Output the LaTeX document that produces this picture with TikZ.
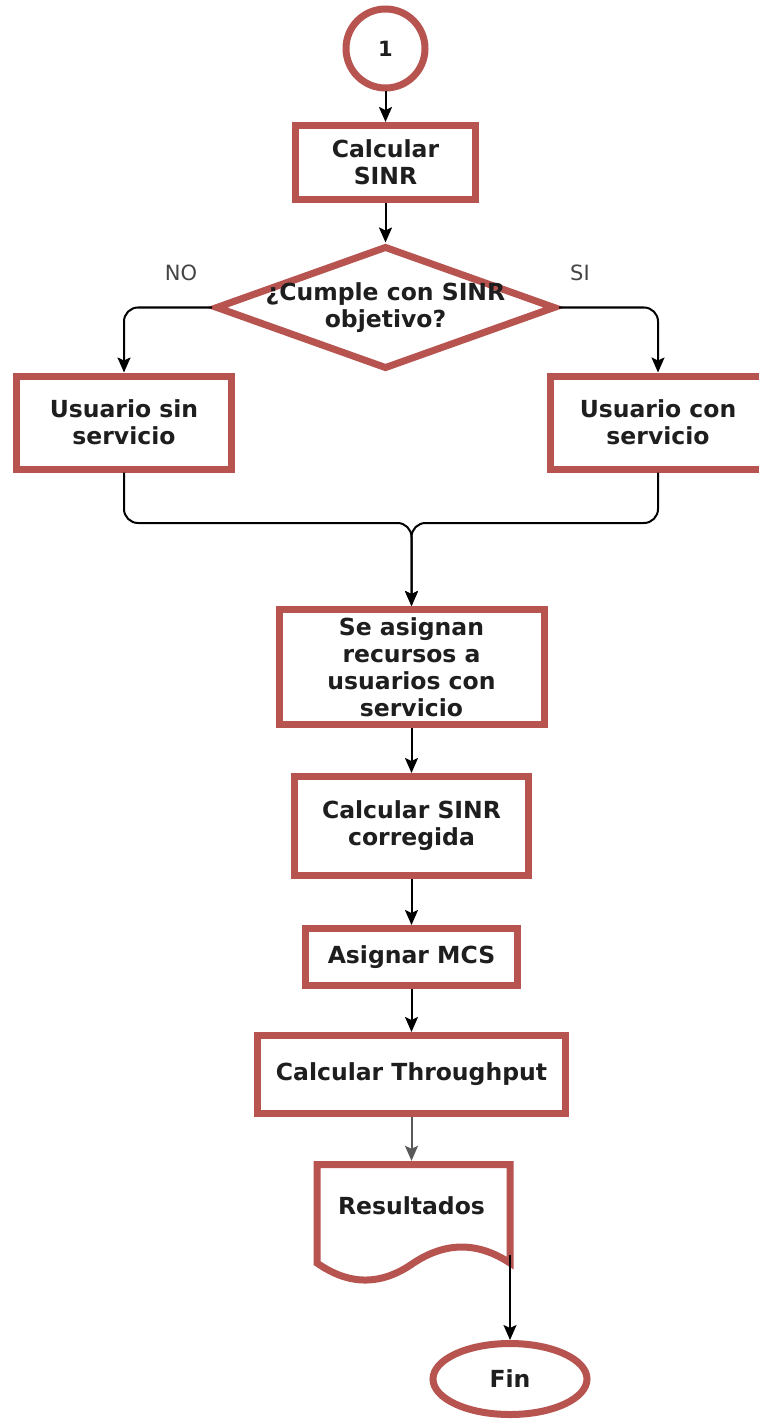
\documentclass[tikz,border=0pt]{standalone}
\usepackage{fontspec}
\setmainfont{DejaVu Sans}
\usetikzlibrary{shapes.geometric,arrows.meta,calc}
\definecolor{stroke}{HTML}{B85450}
\definecolor{ink}{HTML}{1E1E1E}
\definecolor{labelgray}{HTML}{444444}

\begin{document}
\begin{tikzpicture}[x=1pt,y=-1pt,
  txt/.style={font=\bfseries\fontsize{23.5}{27}\selectfont,text=ink,align=center},
  stepbox/.style={txt,draw=stroke,line width=7pt,fill=white,rectangle,inner sep=0pt},
  termnode/.style={txt,draw=stroke,line width=7pt,fill=white,ellipse,inner sep=0pt},
  decnode/.style={draw=stroke,line width=7pt,fill=white,diamond,inner sep=0pt},
  link/.style={draw=black,line width=2pt,-{Stealth[length=15pt,width=13pt,inset=3pt]}},
  branch/.style={font=\fontsize{21}{25}\selectfont,text=labelgray},
]
\useasboundingbox[fill=white] (0,0) rectangle (758,1420);

% start connector
\node[draw=stroke,line width=7pt,fill=white,circle,inner sep=0pt,minimum size=79pt,
      text=ink,font=\bfseries\fontsize{21}{24}\selectfont] (c1) at (385.5,48.5) {1};

% first calculation and decision
\node[stepbox,minimum width=180pt,minimum height=74pt] (b1) at (385.5,162.5) {Calcular\\SINR};
\node[decnode,minimum width=340pt,minimum height=123pt,
      label={[txt]center:{¿Cumple con SINR\\objetivo?}}] (dec) at (385.5,307.5) {};

\node[branch] (no) at (181,273) {NO};
\node[branch] (si) at (580,273) {SI};

% the two outcomes
\node[stepbox,minimum width=215pt,minimum height=93pt] (nosvc) at (124,422.5) {Usuario sin\\servicio};
\node[stepbox,minimum width=215pt,minimum height=93pt] (svc) at (658,422.5) {Usuario con\\servicio};

% main chain
\node[stepbox,minimum width=265pt,minimum height=115pt] (asig) at (411.5,667) {Se asignan\\recursos a\\usuarios con\\servicio};
\node[stepbox,minimum width=234pt,minimum height=99pt] (corr) at (411.5,826) {Calcular SINR\\corregida};
\node[stepbox,minimum width=212pt,minimum height=57pt] (mcs) at (411.5,957) {Asignar MCS};
\node[stepbox,minimum width=308pt,minimum height=78pt] (thr) at (411.5,1074.5) {Calcular Throughput};

% document shape with wavy bottom
\draw[draw=stroke,line width=7pt,fill=white,line join=miter]
  (317,1164.5) -- (510,1164.5) -- (510,1263)
  .. controls (477.8,1241.7) and (445.7,1241.7) .. (413.5,1263)
  .. controls (381.3,1285.7) and (349.2,1285.7) .. (317,1263) -- cycle;
\node[txt,minimum width=200pt,minimum height=90pt,inner sep=0pt] (res) at (411.5,1206) {Resultados};
\coordinate (rescorner) at (510,1255);

\node[termnode,minimum width=154pt,minimum height=71pt] (fin) at (510,1379) {Fin};

% connectors
\draw[link] (c1.south) -- (b1.north);
\draw[link] (b1.south) -- (dec.north);
\draw[link,rounded corners=14pt] (dec.west) -| (nosvc.north);
\draw[link,rounded corners=14pt] (dec.east) -| (svc.north);
\coordinate (jn) at (411.5,523);
\draw[link,rounded corners=14pt] (nosvc.south) |- (jn) -- (asig.north);
\draw[link,rounded corners=14pt] (svc.south) |- (jn) -- (asig.north);
\draw[link] (asig.south) -- (corr.north);
\draw[link] (corr.south) -- (mcs.north);
\draw[link] (mcs.south) -- (thr.north);
\draw[link,draw=black!65] (thr.south) -- (res.north);
\draw[link] (rescorner) -- (fin.north);
\end{tikzpicture}
\end{document}
